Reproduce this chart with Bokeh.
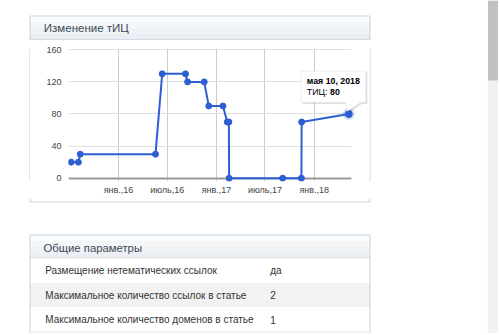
import pandas as pd
from bokeh.plotting import figure
from bokeh.layouts import column, row
from bokeh.models import (Range1d, FixedTicker, Grid, PolyAnnotation, Label,
                          ColumnDataSource)
from bokeh.core.properties import value
from bokeh.embed import file_html
from bokeh.resources import INLINE

# ---------------- data ----------------
dates = ["2015-07-08", "2015-08-04", "2015-08-11", "2016-05-18", "2016-06-12",
         "2016-09-07", "2016-09-15", "2016-11-16", "2016-12-03", "2017-01-25",
         "2017-02-10", "2017-02-16", "2017-02-17", "2017-09-05", "2017-11-14",
         "2017-11-15", "2018-05-10"]
tic_values = [20, 20, 30, 30, 130, 130, 120, 120, 90, 90, 70, 70, 0, 0, 0, 70, 80]

x_tick_dates = ["2016-01-01", "2016-07-01", "2017-01-01", "2017-07-01", "2018-01-01"]
x_tick_labels = ["янв.,16", "июль,16", "янв.,17", "июль,17", "янв.,18"]
y_ticks = [0, 40, 80, 120, 160]

chart_title = "Изменение тИЦ"
tooltip_date = "мая 10, 2018"
tooltip_name = "ТИЦ: "
tooltip_value = "80"

table_title = "Общие параметры"
table_keys = ["Размещение нетематических ссылок",
              "Максимальное количество ссылок в статье",
              "Максимальное количество доменов в статье"]
table_vals = ["да", "2", "1"]

FONT = "Liberation Sans"
BORDER = "#c9d2db"
HEAD_LINE = "#d3dae1"
HEAD = ["#f9fafb", "#f4f6f8", "#eff2f5", "#ebeef2"]
MAIN_W, TOTAL_H = 487, 333
SCROLL_W = 11
CARD_L, CARD_R = 29.5, 369.5


# ---------------- helpers for decoration strips (page-pixel coordinates) ----------------
def strip(x0, y0, w, h):
    f = figure(width=w, height=h, x_range=Range1d(x0, x0 + w), y_range=Range1d(y0 + h, y0),
               output_backend="svg", toolbar_location=None,
               min_border=0, min_border_left=0, min_border_right=0,
               min_border_top=0, min_border_bottom=0)
    f.axis.visible = False
    f.grid.visible = False
    f.outline_line_color = None
    f.background_fill_color = "white"
    f.border_fill_color = "white"
    return f


def rect(f, l, t, r, b, color):
    f.quad(left=[l], right=[r], top=[t], bottom=[b], fill_color=color, line_color=None)


def seg(f, x0, y0, x1, y1, color, w=1):
    f.segment(x0=[x0], y0=[y0], x1=[x1], y1=[y1], line_color=color, line_width=w)


def txt(f, x, y, s, size, color="#333333", bold=False):
    f.text(x=[x], y=[y], text=[s], text_font=value(FONT), text_font_size=value(size),
           text_color=color, text_baseline="middle", text_align="left",
           text_font_style="bold" if bold else "normal")


def header(f, top, bottom):
    n = len(HEAD)
    step = (bottom - top) / n
    for i, c in enumerate(HEAD):
        rect(f, CARD_L, top + i * step, CARD_R, top + (i + 1) * step, c)
    seg(f, CARD_L, bottom, CARD_R, bottom, HEAD_LINE)


# ---------------- top strip: card 1 header ----------------
TOP_H = 40
top = strip(0, 0, MAIN_W, TOP_H)
header(top, 15.5, 39.0)
seg(top, CARD_L, 15.5, CARD_R, 15.5, BORDER)
seg(top, CARD_L, 15.5, CARD_L, TOP_H, BORDER)
seg(top, CARD_R, 15.5, CARD_R, TOP_H, BORDER)
txt(top, 43.3, 27.7, chart_title, "11.5px", color="#3c4a58")

# ---------------- middle row: chart ----------------
MID_H = 158
LEFT_W = 30
CHART_W = 339
RIGHT_W = MAIN_W - LEFT_W - CHART_W

left = strip(0, TOP_H, LEFT_W, MID_H)
seg(left, CARD_L, TOP_H, CARD_L, TOP_H + MID_H, BORDER)

right = strip(LEFT_W + CHART_W, TOP_H, RIGHT_W, MID_H)
seg(right, CARD_R, TOP_H, CARD_R, TOP_H + MID_H, BORDER)

BL, BR, BT, BB = 38, 1, 8, 17
FRAME_W = CHART_W - BL - BR          # 300 px
PX_PER_DAY = 0.2677

x = pd.to_datetime(dates)
pad = pd.Timedelta(days=10)
x_start = x.min() - pad
x_end = x_start + pd.Timedelta(days=FRAME_W / PX_PER_DAY)

p = figure(width=CHART_W, height=MID_H, x_axis_type="datetime",
           x_range=Range1d(x_start, x_end), y_range=Range1d(-4.1, 161.6),
           output_backend="svg", toolbar_location=None,
           min_border_left=BL, min_border_right=BR,
           min_border_top=BT, min_border_bottom=BB)
p.outline_line_color = None
p.background_fill_color = "white"
p.border_fill_color = "white"

tick_ms = [pd.Timestamp(d).value / 1e6 for d in x_tick_dates]
p.xaxis.ticker = FixedTicker(ticks=tick_ms)
p.xaxis.major_label_overrides = {t: l for t, l in zip(tick_ms, x_tick_labels)}
p.yaxis.ticker = FixedTicker(ticks=y_ticks)
for ax in (p.xaxis, p.yaxis):
    ax.axis_line_color = None
    ax.major_tick_line_color = None
    ax.minor_tick_line_color = None
    ax.major_tick_out = 0
    ax.major_tick_in = 0
    ax.major_label_text_font = FONT
    ax.major_label_text_font_size = "9px"
    ax.major_label_text_color = "#444444"
p.yaxis.major_label_standoff = 7
p.xaxis.major_label_standoff = 3
p.xgrid.grid_line_color = "#cccccc"
p.ygrid.grid_line_color = "#e0e0e0"
p.add_layout(Grid(dimension=1, ticker=FixedTicker(ticks=[0]),
                  grid_line_color="#999999", grid_line_width=2))

# white cover so that grid lines stop just after the last point
p.quad(left=[x.max() + pad], right=[x_end + pd.Timedelta(days=30)], bottom=[-50], top=[250],
       fill_color="white", line_color=None)

LINE = "#2d5fd2"
src = ColumnDataSource(dict(x=x, y=tic_values))
p.line("x", "y", source=src, line_color=LINE, line_width=2)
p.scatter("x", "y", source=src, size=6, fill_color=LINE, line_color=LINE, line_width=1)
last = ColumnDataSource(dict(x=x[-1:], y=tic_values[-1:]))
p.scatter("x", "y", source=last, size=12, fill_color=LINE, fill_alpha=0.22, line_color=None)
p.scatter("x", "y", source=last, size=7, fill_color=LINE, line_color=LINE)

# tooltip (screen units relative to the frame)
FL = LEFT_W + BL
FB = TOP_H + MID_H - BB


def sx(px):
    return px - FL


def sy(py):
    return FB - py


tip_x = [300.7, 365.3, 365.3, 360.0, 347.0, 345.0, 300.7]
tip_y = [70.7, 70.7, 102.0, 102.0, 110.7, 102.0, 102.0]
p.add_layout(PolyAnnotation(xs=[sx(v + 1.5) for v in tip_x], ys=[sy(v + 1.5) for v in tip_y],
                            xs_units="screen", ys_units="screen",
                            fill_color="#000000", fill_alpha=0.12, line_color=None,
                            level="overlay"))
p.add_layout(PolyAnnotation(xs=[sx(v) for v in tip_x], ys=[sy(v) for v in tip_y],
                            xs_units="screen", ys_units="screen",
                            fill_color="white", fill_alpha=1, line_color="#cccccc",
                            line_width=1, level="overlay"))


def tlabel(px, py, s, bold=False):
    p.add_layout(Label(x=sx(px), y=sy(py), x_units="screen", y_units="screen", text=s,
                       text_font=FONT, text_font_size="8.8px", text_color="#000000",
                       text_baseline="middle", text_align="left",
                       text_font_style="bold" if bold else "normal", level="overlay"))


tlabel(306.3, 80.5, tooltip_date, bold=True)
tlabel(306.3, 91.5, tooltip_name)
tlabel(329.5, 91.5, tooltip_value, bold=True)

# ---------------- bottom strip: card 1 bottom + card 2 table ----------------
BOT_Y = TOP_H + MID_H
BOT_H = TOTAL_H - BOT_Y
bot = strip(0, BOT_Y, MAIN_W, BOT_H)
seg(bot, CARD_L, BOT_Y, CARD_L, 201.5, BORDER)
seg(bot, CARD_R, BOT_Y, CARD_R, 201.5, BORDER)
seg(bot, CARD_L, 201.5, CARD_R, 201.5, BORDER)

header(bot, 234.5, 257.5)
row_tops = [258.0, 282.3, 306.7, 331.0]
row_fill = ["#ffffff", "#f2f2f2", "#ffffff", "#f2f2f2"]
for i, t in enumerate(row_tops):
    b = row_tops[i + 1] if i + 1 < len(row_tops) else BOT_Y + BOT_H + 5
    rect(bot, CARD_L, t, CARD_R, b, row_fill[i])
seg(bot, CARD_L, 234.5, CARD_R, 234.5, BORDER)
seg(bot, CARD_L, 234.5, CARD_L, BOT_Y + BOT_H + 5, BORDER)
seg(bot, CARD_R, 234.5, CARD_R, BOT_Y + BOT_H + 5, BORDER)
txt(bot, 43.0, 247.7, table_title, "11.3px", color="#3c4a58")
row_centers = [270.0, 294.5, 319.0]
for k, v, cy in zip(table_keys, table_vals, row_centers):
    txt(bot, 44.7, cy, k, "10px")
    txt(bot, 269.7, cy, v, "10px")

# ---------------- browser scrollbar strip ----------------
scroll = strip(MAIN_W, 0, SCROLL_W, TOTAL_H)
rect(scroll, MAIN_W, 0, MAIN_W + SCROLL_W, TOTAL_H, "#f1f1f1")
rect(scroll, MAIN_W + 0.5, 0, MAIN_W + SCROLL_W - 0.5, 80, "#c1c1c1")

page = row(column(top, row(left, p, right), bot), scroll)
open("out.html", "w").write(file_html(page, INLINE))
